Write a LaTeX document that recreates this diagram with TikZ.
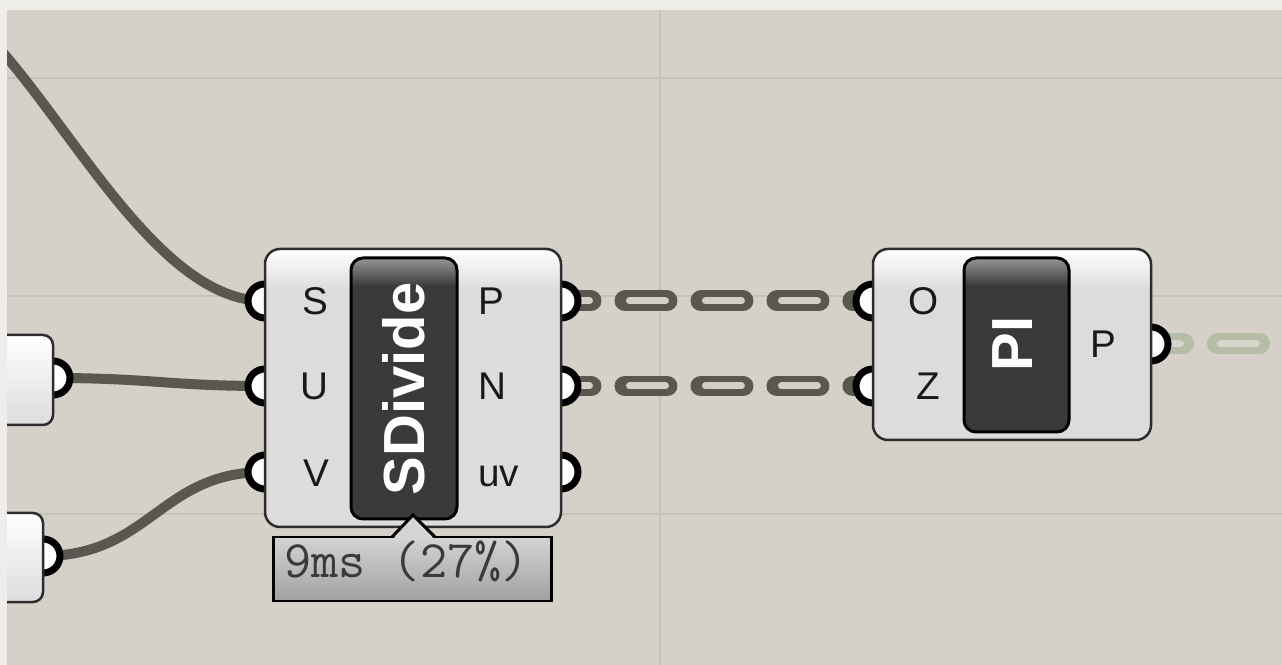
\documentclass[tikz,border=0pt]{standalone}
\usepackage{fontspec}
\setmainfont{Liberation Sans}
\usetikzlibrary{calc}

\definecolor{canvas}{RGB}{213,208,200}
\definecolor{gridline}{RGB}{197,192,184}
\definecolor{wirecol}{RGB}{90,86,80}
\definecolor{wirein}{RGB}{211,207,199}
\definecolor{greenout}{RGB}{182,189,166}
\definecolor{greenin}{RGB}{213,213,201}
\definecolor{boxedge}{RGB}{45,45,45}
\definecolor{boxbody}{RGB}{220,220,220}
\definecolor{icondark}{RGB}{58,58,58}
\definecolor{iconlight}{RGB}{150,150,150}
\definecolor{tiptext}{RGB}{58,58,58}
\definecolor{margin}{RGB}{238,237,234}

\begin{document}
\begin{tikzpicture}[x=0.02cm,y=-0.02cm,
    wire/.style={line width=0.2cm, wirecol},
    grip/.style={line width=0.14cm, draw=black, fill=white},
    compbox/.style={draw=boxedge, line width=0.05cm, rounded corners=0.3cm},
    iconbox/.style={draw=black, line width=0.06cm, rounded corners=0.24cm},
    lbl/.style={font=\fontsize{22}{22}\selectfont, text=black!90, inner sep=0pt},
    title/.style={font=\fontsize{33}{33}\selectfont\bfseries, text=white, rotate=90, inner sep=0pt},
    dashout/.style={line width=0.42cm, line cap=round, wirecol, dash pattern=on 0.84cm off 0.68cm, dash phase=0.24cm},
    dashin/.style={line width=0.14cm, line cap=round, wirein, dash pattern=on 0.72cm off 0.8cm, dash phase=0.15cm}]
    \useasboundingbox (0,0) rectangle (1282,665);

    % canvas and grid
    \fill[canvas] (0,0) rectangle (1282,665);
    \draw[gridline, line width=0.045cm] (0,78) -- (1282,78);
    \draw[gridline, line width=0.045cm] (0,296) -- (1282,296);
    \draw[gridline, line width=0.045cm] (0,514) -- (1282,514);
    \draw[gridline, line width=0.045cm] (660,0) -- (660,665);

    % grip points
    \coordinate (srf) at (-10,38);
    \coordinate (numA) at (53,378);
    \coordinate (numB) at (43,556);
    \coordinate (sdS) at (265,301);
    \coordinate (sdU) at (265,386);
    \coordinate (sdV) at (265,472);
    \coordinate (sdP) at (561,301);
    \coordinate (sdN) at (561,386);
    \coordinate (sdUV) at (561,472);
    \coordinate (piO) at (873,301);
    \coordinate (piZ) at (873,386);
    \coordinate (piP) at (1151,344);
    \coordinate (piOut) at (1300,344);

    % wires into SDivide
    \draw[wire] (srf) .. controls (75,130) and (160,301) .. (sdS);
    \draw[wire] (numA) .. controls (150,378) and (170,386) .. (sdU);
    \draw[wire] (numB) .. controls (150,556) and (160,472) .. (sdV);

    % dashed wires
    \draw[dashout] (sdP) -- (piO);
    \draw[dashin] (sdP) -- (piO);
    \draw[dashout] (sdN) -- (piZ);
    \draw[dashin] (sdN) -- (piZ);
    \draw[dashout, greenout, dash phase=0.19cm] (piP) -- (piOut);
    \draw[dashin, greenin, dash phase=0.13cm] (piP) -- (piOut);

    % number boxes at the left
    \draw[grip] (numA) circle (0.34cm);
    \draw[grip] (numB) circle (0.34cm);
    \draw[compbox, rounded corners=0.2cm, top color=white, bottom color=boxbody] (-30,335) rectangle (53,425);
    \draw[compbox, rounded corners=0.2cm, top color=white, bottom color=boxbody] (-30,513) rectangle (43,602);

    % SDivide component
    \foreach \g in {sdS,sdU,sdV,sdP,sdN,sdUV}
        \draw[grip] (\g) circle (0.34cm);
    \fill[boxbody, rounded corners=0.3cm] (265,249) rectangle (561,527);
    \begin{scope}
        \clip[rounded corners=0.3cm] (265,249) rectangle (561,527);
        \shade[top color=white, bottom color=boxbody] (265,249) rectangle (561,290);
    \end{scope}
    \draw[compbox] (265,249) rectangle (561,527);
    \fill[icondark, rounded corners=0.24cm] (351,258) rectangle (457,519);
    \begin{scope}
        \clip[rounded corners=0.24cm] (351,258) rectangle (457,519);
        \shade[top color=iconlight, bottom color=icondark] (351,258) rectangle (457,286);
    \end{scope}
    \draw[iconbox] (351,258) rectangle (457,519);
    \node[title] (sdName) at (404,389) {SDivide};
    \node[lbl, anchor=base east] (sdSl) at (329,315) {S};
    \node[lbl, anchor=base east] (sdUl) at (329,400) {U};
    \node[lbl, anchor=base east] (sdVl) at (330,487) {V};
    \node[lbl, anchor=base west] (sdPl) at (478,315) {P};
    \node[lbl, anchor=base west] (sdNl) at (478,400) {N};
    \node[lbl, anchor=base west] (sdUVl) at (478,487) {uv};

    % PI component
    \foreach \g in {piO,piZ,piP}
        \draw[grip] (\g) circle (0.34cm);
    \fill[boxbody, rounded corners=0.3cm] (873,249) rectangle (1151,440);
    \begin{scope}
        \clip[rounded corners=0.3cm] (873,249) rectangle (1151,440);
        \shade[top color=white, bottom color=boxbody] (873,249) rectangle (1151,290);
    \end{scope}
    \draw[compbox] (873,249) rectangle (1151,440);
    \fill[icondark, rounded corners=0.24cm] (964,258) rectangle (1069,432);
    \begin{scope}
        \clip[rounded corners=0.24cm] (964,258) rectangle (1069,432);
        \shade[top color=iconlight, bottom color=icondark] (964,258) rectangle (1069,286);
    \end{scope}
    \draw[iconbox] (964,258) rectangle (1069,432);
    \node[title] (piName) at (1013,344) {PI};
    \node[lbl, anchor=base east] (piOl) at (939,315) {O};
    \node[lbl, anchor=base east] (piZl) at (940,400) {Z};
    \node[lbl, anchor=base west] (piPl) at (1090,358) {P};

    % profiler tooltip
    \draw[line width=0.06cm, top color=black!17, bottom color=black!37] (273,537) rectangle (551,601);
    \fill[black!17] (393,539) -- (413,515) -- (434,539) -- cycle;
    \draw[line width=0.06cm] (392,537) -- (413,515) -- (435,537);
    \node[anchor=base west, inner sep=0pt, text=tiptext, font=\ttfamily\fontsize{30}{30}\selectfont] (tip) at (284,578) {9ms (27\%)};

    % window edges
    \fill[margin] (0,0) rectangle (1282,10);
    \fill[margin] (0,0) rectangle (7,665);
\end{tikzpicture}
\end{document}
